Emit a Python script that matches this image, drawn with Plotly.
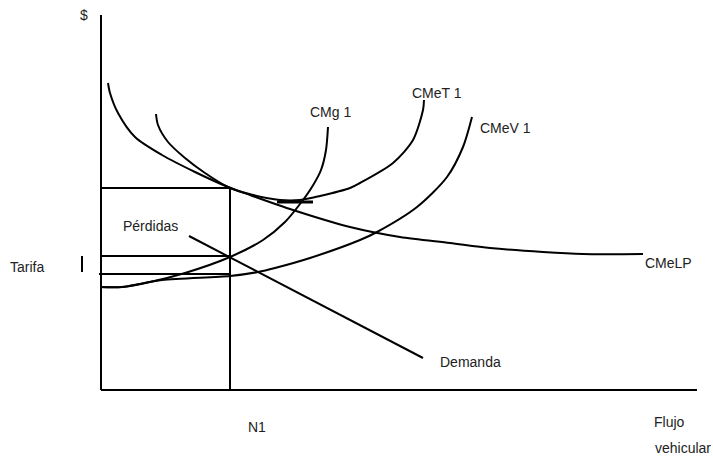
import plotly.graph_objects as go

# Coordinates in chart units: origin at the axes corner
axis_x = [0, 596]
axis_y = [0, 375]

cmelp_x = [7, 9, 17, 34, 61, 94, 127, 149, 192, 249, 299, 349, 389, 442, 482, 542]
cmelp_y = [307, 297, 277, 253, 235, 218, 203, 195, 180, 163, 153, 147, 142, 138, 136, 136]

cmet_x = [55, 57, 67, 84, 104, 127, 152, 179, 199, 219, 249, 259, 292, 312, 322, 323]
cmet_y = [276, 265, 248, 232, 217, 203, 195, 190, 190, 194, 202, 207, 227, 250, 280, 290]

cmg_x = [-1, 21, 49, 84, 129, 162, 184, 199, 211, 220, 225, 227]
cmg_y = [103, 103, 108, 117, 133, 150, 168, 186, 203, 220, 240, 263]

cmev_x = [-1, 21, 61, 129, 157, 174, 209, 259, 276, 316, 346, 362, 371]
cmev_y = [103, 103, 110, 114, 118, 122, 132, 150, 158, 183, 213, 243, 273]

demanda_x = [88, 322]
demanda_y = [154, 32]

n1 = 129
cme_n1 = 202      # costo medio at N1
tarifa = 134      # tarifa level
cmev_n1 = 116     # costo variable at N1
tangent_x = [176, 212]
tangent_y = 188
tarifa_mark_x = -19
tarifa_mark_y = [118, 134]

labels = [
    ("$", -17, 375, "center"),
    ("CMg 1", 229, 278, "center"),
    ("CMeT 1", 336, 297, "center"),
    ("CMeV 1", 404, 262, "center"),
    ("CMeLP", 567, 127, "center"),
    ("Demanda", 369, 28, "center"),
    ("Flujo", 551, -32, "left"),
    ("vehicular", 552, -58, "left"),
    ("N1", 156, -37, "center"),
    ("Pérdidas", 49, 164, "center"),
    ("Tarifa", -74, 123, "center"),
]

fig = go.Figure()

def add(x, y, shape="linear", width=2):
    fig.add_trace(go.Scatter(x=x, y=y, mode="lines",
                             line=dict(color="black", width=width, shape=shape, smoothing=0.8),
                             hoverinfo="skip", showlegend=False))

# axes
add([0, 0], axis_y)
add(axis_x, [0, 0])
# curves
add(cmelp_x, cmelp_y, "spline")
add(cmet_x, cmet_y, "spline")
add(cmg_x, cmg_y, "spline")
add(cmev_x, cmev_y, "spline")
add(demanda_x, demanda_y)
# guide lines
add([n1, n1], [0, cme_n1])
add([0, n1], [cme_n1, cme_n1])
add([0, n1], [tarifa, tarifa])
add([-2, n1], [cmev_n1, cmev_n1])
add(tangent_x, [tangent_y, tangent_y], width=3)
add([tarifa_mark_x, tarifa_mark_x], tarifa_mark_y)

for text, x, y, anchor in labels:
    fig.add_annotation(x=x, y=y, text=text, showarrow=False, xanchor=anchor,
                       font=dict(family="Liberation Sans, Arial", size=14, color="#222"))

fig.update_layout(
    width=713, height=456, margin=dict(l=0, r=0, t=0, b=0),
    paper_bgcolor="white", plot_bgcolor="white",
    xaxis=dict(range=[-101, 612], visible=False, fixedrange=True),
    yaxis=dict(range=[-66, 390], visible=False, fixedrange=True),
)
fig.write_html("out.html", config={"displayModeBar": False},
               post_script="document.body.style.margin='0';document.body.style.overflow='hidden';")
